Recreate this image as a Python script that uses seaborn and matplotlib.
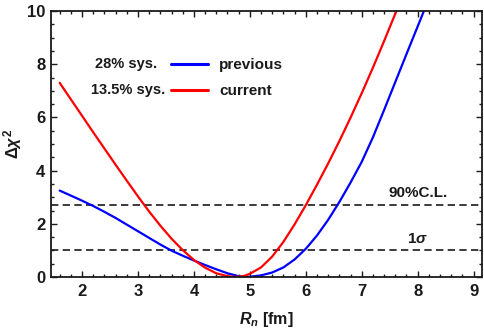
import numpy as np
import pandas as pd
import matplotlib
matplotlib.use("Agg")
import matplotlib.pyplot as plt
import seaborn as sns
from matplotlib.ticker import MultipleLocator

# ---- data ----
r_current = [1.6, 1.8, 2.0, 2.2, 2.4, 2.6, 2.8, 3.0, 3.2, 3.4, 3.6, 3.8, 4.0, 4.2, 4.4,
             4.6, 4.75, 4.9, 5.0, 5.2, 5.4, 5.6, 5.8, 6.0, 6.2, 6.4, 6.6, 6.8, 7.0,
             7.2, 7.4, 7.6, 7.65]
chi2_current = [7.30, 6.68, 6.06, 5.44, 4.83, 4.22, 3.62, 3.03, 2.46, 1.93, 1.44, 1.01,
                0.64, 0.35, 0.14, 0.03, 0.0, 0.04, 0.12, 0.36, 0.77, 1.32, 1.98, 2.70,
                3.47, 4.27, 5.11, 5.99, 6.91, 7.87, 8.87, 9.90, 10.16]

r_previous = [1.6, 1.8, 2.0, 2.2, 2.4, 2.6, 2.8, 3.0, 3.2, 3.4, 3.6, 3.8, 4.0, 4.2, 4.4,
              4.6, 4.8, 4.9, 5.0, 5.2, 5.4, 5.6, 5.8, 6.0, 6.2, 6.4, 6.6, 6.8, 7.0,
              7.2, 7.4, 7.6, 7.8, 8.0, 8.15]
chi2_previous = [3.25, 3.06, 2.87, 2.67, 2.45, 2.22, 1.97, 1.72, 1.47, 1.22, 0.99, 0.80,
                 0.62, 0.45, 0.29, 0.14, 0.03, 0.0, 0.01, 0.06, 0.17, 0.36, 0.66, 1.06,
                 1.56, 2.15, 2.82, 3.55, 4.33, 5.25, 6.28, 7.33, 8.38, 9.42, 10.2]

series_names = ["previous", "current"]
series_sys = ["28% sys.", "13.5% sys."]
series_colors = ["#0000ff", "#ff0000"]

cl_levels = [2.71, 1.0]
cl_labels = ["90%C.L.", r"1$\mathit{\sigma}$"]

x_ticks = [2, 3, 4, 5, 6, 7, 8, 9]
y_ticks = [0, 2, 4, 6, 8, 10]

df = pd.concat([
    pd.DataFrame({"R": r_previous, "chi2": chi2_previous, "series": "previous"}),
    pd.DataFrame({"R": r_current, "chi2": chi2_current, "series": "current"}),
], ignore_index=True)

# ---- style ----
sns.set_theme(style="ticks")
plt.rcParams["font.family"] = ["Liberation Sans", "DejaVu Sans"]
plt.rcParams["font.weight"] = "bold"
plt.rcParams["mathtext.fontset"] = "custom"
plt.rcParams["mathtext.rm"] = "Liberation Sans:bold"
plt.rcParams["mathtext.it"] = "Liberation Sans:italic:bold"
plt.rcParams["mathtext.bf"] = "Liberation Sans:bold"

INK = "#1a1a1a"
fig = plt.figure(figsize=(4.85, 3.30), dpi=100)
ax = fig.add_axes([51/485, 1-277/330, (482-51)/485, (277-11)/330])

sns.lineplot(data=df, x="R", y="chi2", hue="series", hue_order=series_names,
             palette=dict(zip(series_names, series_colors)), linewidth=1.6,
             sort=False, estimator=None, ax=ax)

for lvl, lab in zip(cl_levels, cl_labels):
    ax.axhline(lvl, color=INK, linewidth=1.2, dashes=(4.4, 2.6), zorder=1)
    ax.text(8.0, lvl + 0.18, lab, ha="center", va="bottom", fontsize=11,
            fontweight="bold", color=INK)

ax.set_xlim(1.445, 9.15)
ax.set_ylim(0, 10)
ax.set_xticks(x_ticks)
ax.set_yticks(y_ticks)
ax.xaxis.set_minor_locator(MultipleLocator(0.2))
ax.yaxis.set_minor_locator(MultipleLocator(0.5))
ax.tick_params(which="both", direction="in", top=True, right=True, color=INK,
               width=1.0)
ax.tick_params(which="major", length=4, labelsize=12, labelcolor=INK)
ax.tick_params(which="minor", length=2.5)
ax.tick_params(axis="x", which="major", pad=5)
ax.tick_params(axis="y", which="major", pad=4)
for lbl in ax.get_xticklabels() + ax.get_yticklabels():
    lbl.set_fontweight("bold")
for sp in ax.spines.values():
    sp.set_linewidth(1.3)
    sp.set_color(INK)

ax.set_xlabel(r"$\mathit{R}_{\mathit{n}}$ [fm]", fontsize=11.5, fontweight="bold",
              color=INK)
ax.set_ylabel(r"$\Delta\mathit{\chi}^{2}$", fontsize=12, fontweight="bold",
              color=INK)
ax.xaxis.set_label_coords(0.5, -0.125)
ax.yaxis.set_label_coords(-0.062, 0.5)

# legend
sns.move_legend(ax, loc="upper left", bbox_to_anchor=(171/485, 1-58/330),
                bbox_transform=fig.transFigure, frameon=False, title=None,
                handlelength=2.4, handletextpad=0.75, labelspacing=0.78,
                borderpad=0, borderaxespad=0, prop={"size": 11, "weight": "bold"})
leg = ax.get_legend()
for h in leg.legend_handles:
    h.set_linewidth(2.2)
for t in leg.get_texts():
    t.set_color(INK)

sys_right = [157, 165]
sys_y = [64, 90]
for s, xr, yy in zip(series_sys, sys_right, sys_y):
    fig.text(xr/485, 1-yy/330, s, ha="right", va="center", fontsize=10.5,
             fontweight="bold", color=INK)

fig.savefig("out.png", dpi=100)
